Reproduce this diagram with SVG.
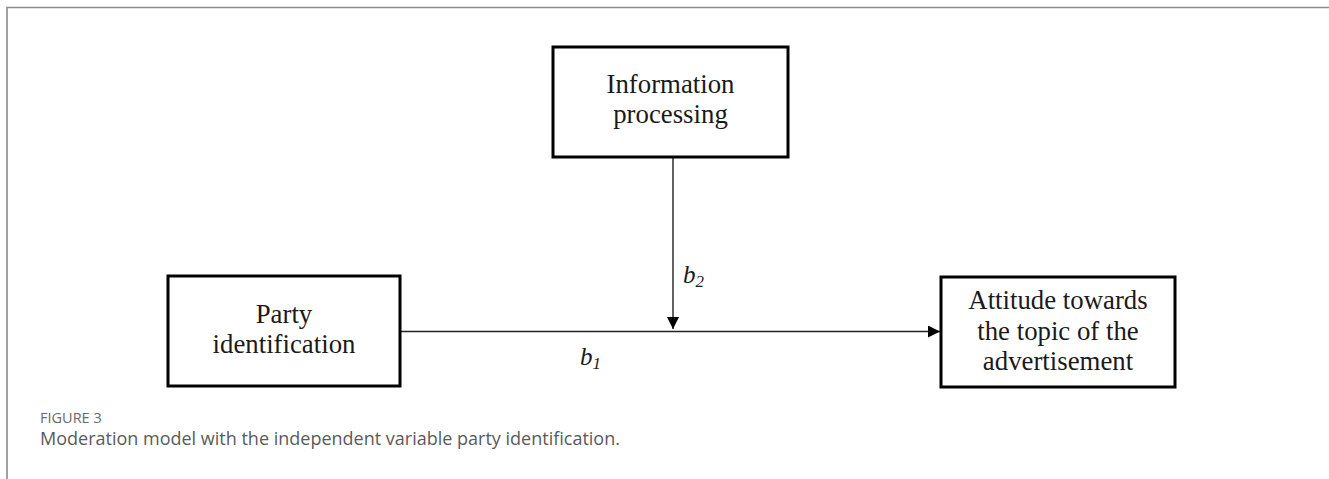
<svg xmlns="http://www.w3.org/2000/svg" width="1329" height="479" viewBox="0 0 1329 479">
  <style>
    .box { fill: #ffffff; stroke: #000000; stroke-width: 3; }
    .lbl { font-family: "Liberation Serif", "Times New Roman", serif; font-size: 26.8px; fill: #1a1a1a; text-anchor: middle; }
    .coef { font-family: "Liberation Serif", "Times New Roman", serif; font-style: italic; font-size: 25px; fill: #1a1a1a; }
    .sub { font-size: 17px; }
    .link { fill: none; stroke: #222222; stroke-width: 1.4; }
    .frame { fill: none; stroke: #8a8a8a; stroke-width: 1.6; }
    .figno { font-family: "Open Sans", "Liberation Sans", sans-serif; font-size: 14.5px; fill: #6a6a6a; }
    .caption { font-family: "Open Sans", "Liberation Sans", sans-serif; font-size: 18px; fill: #5a5a5a; }
  </style>
  <defs>
    <marker id="arrow" markerUnits="userSpaceOnUse" markerWidth="12" markerHeight="12" refX="12" refY="6" orient="auto">
      <path d="M0,0 L12,6 L0,12 Z" fill="#000000"/>
    </marker>
  </defs>

  <!-- figure frame: top rule and left rule -->
  <path class="frame" d="M7,479 V7.5 H1329"/>

  <!-- connectors -->
  <g id="connectors">
    <path class="link" d="M673,157 V329" marker-end="url(#arrow)"/>
    <path class="link" d="M400,331.5 H940" marker-end="url(#arrow)"/>
    <text class="coef" x="683" y="283">b<tspan class="sub" dy="4">2</tspan></text>
    <text class="coef" x="580" y="365">b<tspan class="sub" dy="4">1</tspan></text>
  </g>

  <g id="information-processing">
    <rect class="box" x="553" y="47" width="235" height="110"/>
    <text class="lbl" x="670.5" y="93">Information</text>
    <text class="lbl" x="670.5" y="123">processing</text>
  </g>

  <g id="party-identification">
    <rect class="box" x="168" y="276" width="232" height="110"/>
    <text class="lbl" x="284" y="323">Party</text>
    <text class="lbl" x="284" y="353">identification</text>
  </g>

  <g id="attitude">
    <rect class="box" x="941" y="277" width="234" height="110"/>
    <text class="lbl" x="1058" y="309">Attitude towards</text>
    <text class="lbl" x="1058" y="340">the topic of the</text>
    <text class="lbl" x="1058" y="370">advertisement</text>
  </g>

  <!-- caption -->
  <text class="figno" x="40" y="423">FIGURE 3</text>
  <text class="caption" x="40" y="445">Moderation model with the independent variable party identification.</text>
</svg>
